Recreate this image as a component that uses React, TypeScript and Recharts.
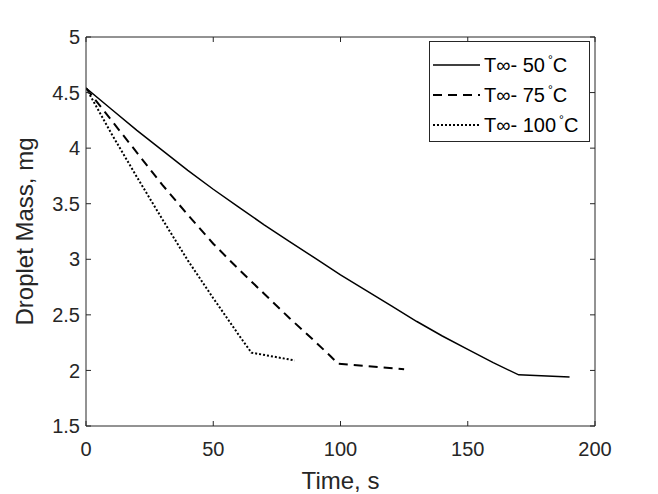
import React from "react";
import { Label, Legend, Line, LineChart, XAxis, YAxis } from "recharts";

const timeTicks = [0, 50, 100, 150, 200];
const massTicks = [1.5, 2, 2.5, 3, 3.5, 4, 4.5, 5];

// T = 50 C
const time50 = [0, 10, 20, 30, 40, 50, 60, 70, 80, 90, 100, 110, 120, 130, 140, 150, 160, 170, 190];
const mass50 = [4.54, 4.35, 4.16, 3.98, 3.8, 3.63, 3.47, 3.31, 3.16, 3.01, 2.86, 2.72, 2.58, 2.44, 2.31, 2.19, 2.07, 1.96, 1.94];

// T = 75 C
const time75 = [0, 10, 20, 30, 40, 50, 60, 70, 80, 90, 96, 99, 125];
const mass75 = [4.54, 4.25, 3.96, 3.67, 3.4, 3.14, 2.91, 2.69, 2.47, 2.26, 2.13, 2.06, 2.01];

// T = 100 C
const time100 = [0, 10, 20, 30, 40, 50, 60, 65, 82];
const mass100 = [4.54, 4.13, 3.74, 3.36, 2.99, 2.65, 2.32, 2.16, 2.09];

const seriesNames = ["50", "75", "100"];

const toRows = (t: number[], m: number[]) => t.map((x, i) => ({ time: x, mass: m[i] }));

const series = [
  { name: seriesNames[0], data: toRows(time50, mass50), dash: undefined, width: 1.5 },
  { name: seriesNames[1], data: toRows(time75, mass75), dash: "9 6", width: 2 },
  { name: seriesNames[2], data: toRows(time100, mass100), dash: "2 2", width: 2 },
];

const font = "'Liberation Sans', Arial, Helvetica, sans-serif";
const ink = "#262626";
const TICK = 5;
const tickFont = 20;

// matlab-style ticks: marks point into the plot box
const BottomTick = (p: any) => (
  <g>
    <line x1={p.x} x2={p.x} y1={p.y - 16} y2={p.y - 16 - TICK} stroke={ink} />
    <text x={p.x} y={p.y} dy="0.71em" textAnchor="middle" fill={ink} fontSize={tickFont} fontFamily={font}>
      {p.payload.value}
    </text>
  </g>
);

const LeftTick = (p: any) => (
  <g>
    <line x1={p.x + 6} x2={p.x + 6 + TICK} y1={p.y} y2={p.y} stroke={ink} />
    <text x={p.x} y={p.y} dy="0.355em" textAnchor="end" fill={ink} fontSize={tickFont} fontFamily={font}>
      {p.payload.value}
    </text>
  </g>
);

const TopTick = (p: any) => <line x1={p.x} x2={p.x} y1={p.y} y2={p.y + TICK} stroke={ink} />;

const RightTick = (p: any) => <line x1={p.x} x2={p.x - TICK} y1={p.y} y2={p.y} stroke={ink} />;

function LegendBox() {
  return (
    <div
      style={{
        border: `1px solid ${ink}`,
        background: "#fff",
        width: 161,
        height: 101,
        boxSizing: "border-box",
        padding: "8px 0 0 3px",
        fontFamily: font,
        fontSize: 20,
        color: "#000",
        whiteSpace: "nowrap",
      }}
    >
      {series.map((s) => (
        <div key={s.name} style={{ display: "flex", alignItems: "center", height: 30 }}>
          <svg width={48} height={10} style={{ marginRight: 3, flex: "none" }}>
            <line x1={0} y1={5} x2={47} y2={5} stroke="#000" strokeWidth={s.width} strokeDasharray={s.dash} />
          </svg>
          <span>
            T∞- {s.name}
            <sup style={{ fontSize: 12, verticalAlign: 8, marginLeft: 3 }}>°</sup>C
          </span>
        </div>
      ))}
    </div>
  );
}

export default function App() {
  return (
    <div style={{ position: "absolute", left: 0, top: 0, background: "#fff" }}>
      <LineChart
        width={658}
        height={494}
        margin={{ top: 36, right: 62, bottom: 28, left: 0 }}
        style={{ fontFamily: font }}
      >
        <XAxis
          xAxisId="bottom"
          dataKey="time"
          type="number"
          domain={[0, 200]}
          ticks={timeTicks}
          allowDataOverflow
          height={40}
          tickSize={0}
          tickMargin={16}
          tickLine={false}
          stroke={ink}
          tick={BottomTick}
        >
          <Label
            content={({ viewBox }: any) => (
              <text
                x={viewBox.x + viewBox.width / 2}
                y={489}
                textAnchor="middle"
                fontSize={24}
                fill={ink}
                fontFamily={font}
              >
                Time, s
              </text>
            )}
          />
        </XAxis>
        <XAxis
          xAxisId="top"
          orientation="top"
          dataKey="time"
          type="number"
          domain={[0, 200]}
          ticks={timeTicks}
          allowDataOverflow
          height={1}
          tickSize={0}
          tickMargin={0}
          tickLine={false}
          stroke={ink}
          tick={TopTick}
        />
        <YAxis
          yAxisId="left"
          type="number"
          domain={[1.5, 5]}
          ticks={massTicks}
          allowDataOverflow
          width={86}
          tickSize={0}
          tickMargin={6}
          tickLine={false}
          stroke={ink}
          tick={LeftTick}
        >
          <Label
            content={({ viewBox }: any) => {
              const cx = 33;
              const cy = viewBox.y + viewBox.height / 2;
              return (
                <text
                  x={cx}
                  y={cy}
                  textAnchor="middle"
                  fontSize={24}
                  fill={ink}
                  fontFamily={font}
                  transform={`rotate(-90, ${cx}, ${cy})`}
                >
                  Droplet Mass, mg
                </text>
              );
            }}
          />
        </YAxis>
        <YAxis
          yAxisId="right"
          orientation="right"
          type="number"
          domain={[1.5, 5]}
          ticks={massTicks}
          allowDataOverflow
          width={1}
          tickSize={0}
          tickMargin={0}
          tickLine={false}
          stroke={ink}
          tick={RightTick}
        />
        <Legend
          layout="horizontal"
          verticalAlign="middle"
          align="center"
          content={() => <LegendBox />}
          wrapperStyle={{ position: "absolute", left: 429, top: 41, width: 161, height: 101 }}
        />
        {series.map((s) => (
          <Line
            key={s.name}
            xAxisId="bottom"
            yAxisId="left"
            data={s.data}
            dataKey="mass"
            type="linear"
            stroke="#000"
            strokeWidth={s.width}
            strokeDasharray={s.dash}
            dot={false}
            activeDot={false}
            isAnimationActive={false}
          />
        ))}
      </LineChart>
    </div>
  );
}
